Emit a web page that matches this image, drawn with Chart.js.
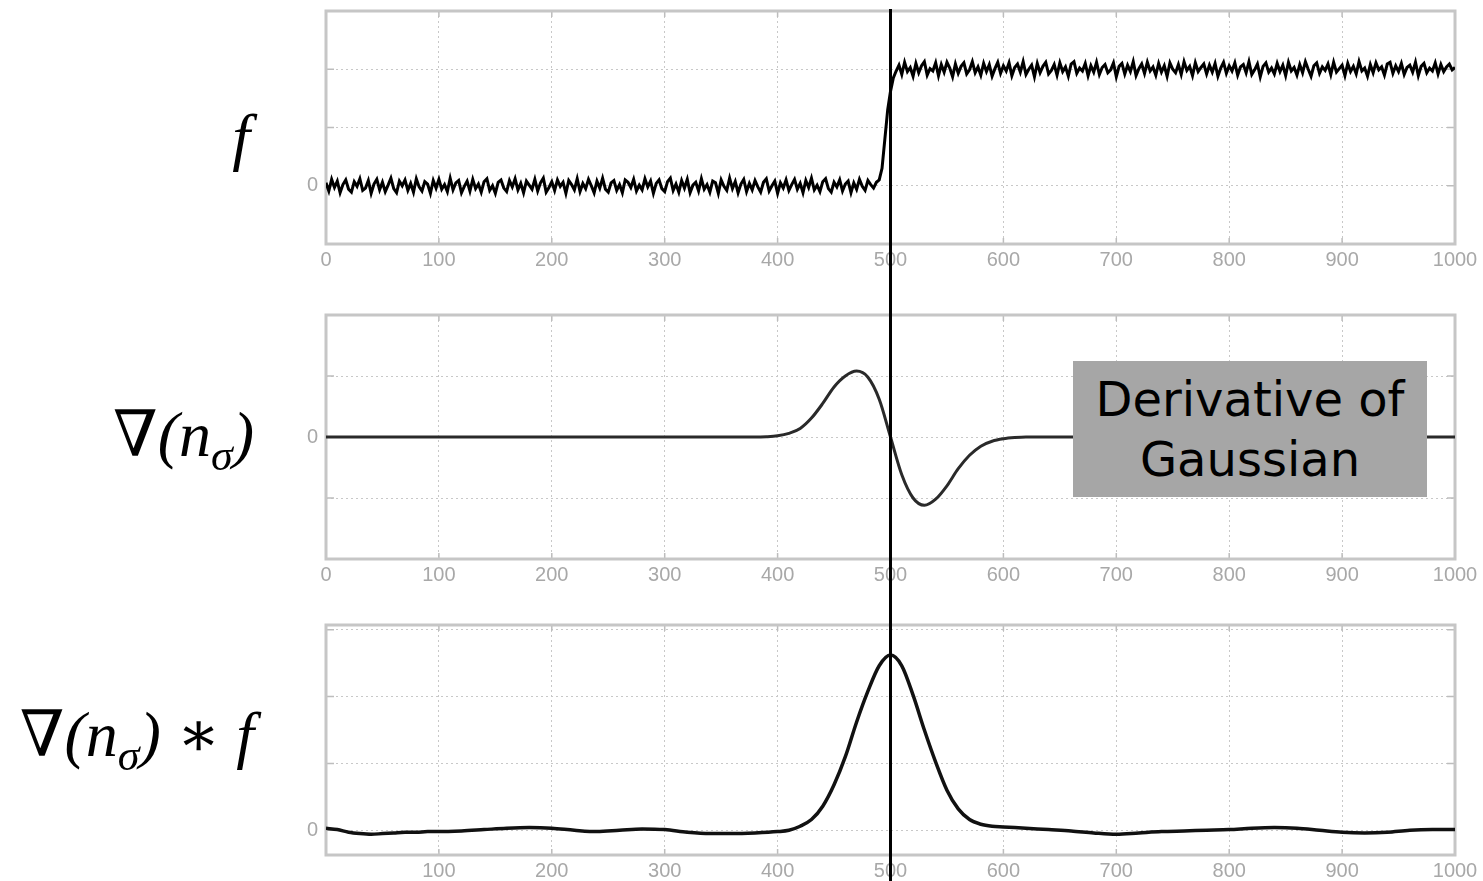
<!DOCTYPE html>
<html>
<head>
<meta charset="utf-8">
<script src="https://cdn.jsdelivr.net/npm/chart.js@4.4.0/dist/chart.umd.min.js"></script>
<style>
  html, body { margin: 0; padding: 0; background: #fff; }
  #page { position: relative; width: 1483px; height: 881px; overflow: hidden; }
  canvas { position: absolute; left: 0; }
  .lbl {
    position: absolute; left: 0; width: 254px; text-align: right;
    font-family: "Liberation Serif", "DejaVu Serif", serif; font-style: italic;
    font-size: 64px; line-height: 70px; color: #000; white-space: nowrap;
  }
  .lbl sub { font-size: 44px; vertical-align: -14px; line-height: 0; }
  #dogBox {
    position: absolute; left: 1073px; top: 361px; width: 354px; height: 136px;
    background: #a6a6a6; color: #000; box-sizing: border-box; padding-top: 8px;
    font-family: "DejaVu Sans", sans-serif; font-size: 48px; line-height: 60px; text-align: center;
  }
</style>
</head>
<body>
<div id="page">
  <canvas id="c1" width="1483" height="290" style="top:0px"></canvas>
  <canvas id="c2" width="1483" height="310" style="top:290px"></canvas>
  <canvas id="c3" width="1483" height="281" style="top:600px"></canvas>
  <div class="lbl" style="top:102px; width:250px">f</div>
  <div class="lbl" style="top:400px">∇(n<sub>σ</sub>)</div>
  <div class="lbl" style="top:700px">∇(n<sub>σ</sub>) ∗ f</div>
  <div id="dogBox">Derivative of<br>Gaussian</div>
</div>
<script>
// x axis shared by the three panels
const X_MIN = 0;
const X_MAX = 1000;
const X_TICK_STEP = 100;
const EDGE_X = 500;

// noisy step signal f, sampled every F_STEP along x
const F_STEP = 2.5;
const F_VALUES = [
  // low plateau, x = 0 .. 487.5
  0.05, -0.09, 0.11, -0.03, 0.08, -0.12, 0.02, 0.10, -0.06, -0.11, 0.07, -0.01, 0.12, -0.08,
  -0.04, 0.09, -0.13, 0.03, 0.11, -0.07, 0.06, -0.10, 0.01, 0.13, -0.05, -0.12, 0.08, 0.00,
  0.10, -0.08, 0.04, -0.11, 0.12, -0.02, -0.09, 0.07, 0.03, -0.13, 0.09, -0.04, 0.11, -0.06,
  0.02, -0.10, 0.13, -0.07, 0.05, 0.09, -0.12, -0.01, 0.08, -0.09, 0.11, -0.05, 0.03, -0.11,
  0.07, 0.12, -0.08, 0.00, -0.13, 0.06, 0.10, -0.04, -0.10, 0.09, -0.02, 0.12, -0.07, 0.04,
  -0.12, 0.08, 0.01, -0.06, 0.11, -0.09, 0.05, 0.13, -0.11, -0.03, 0.07, -0.08, 0.10, -0.01,
  0.06, -0.13, 0.09, 0.02, -0.07, 0.12, -0.10, 0.04, -0.05, 0.11, 0.00, -0.12, 0.08, -0.04,
  0.13, -0.06, -0.11, 0.05, 0.09, -0.08, 0.02, -0.12, 0.10, 0.06, -0.03, 0.11, -0.09, 0.01,
  -0.07, 0.12, -0.02, 0.08, -0.13, 0.04, 0.10, -0.05, -0.10, 0.07, 0.13, -0.08, 0.03, -0.11,
  0.09, -0.04, 0.11, -0.12, 0.01, 0.06, -0.09, 0.12, -0.06, 0.02, -0.11, 0.08, 0.05, -0.13,
  0.10, -0.01, -0.08, 0.13, -0.05, 0.07, -0.12, 0.03, 0.11, -0.10, 0.04, -0.07, 0.09, -0.02,
  -0.11, 0.06, 0.12, -0.09, 0.00, 0.08, -0.13, 0.05, -0.04, 0.10, -0.08, 0.02, 0.11, -0.06,
  0.04, -0.12, 0.09, -0.03, 0.13, -0.07, 0.01, -0.10, 0.07, 0.12, -0.05, -0.11, 0.06, -0.02,
  0.10, -0.09, 0.03, 0.08, -0.12, 0.05, -0.06, 0.11, -0.01, -0.08, 0.09, 0.02, -0.04, 0.06,
  // rise, x = 490 .. 505
  0.10, 0.30, 0.80, 1.30, 1.62, 1.85, 1.97,
  // high plateau, x = 507.5 .. 1000
  2.07, 1.91, 2.12, 1.96, 2.03, 1.88, 2.10, 1.94, 2.06, 2.13, 1.90, 2.01, 1.97, 2.11,
  1.89, 2.08, 1.95, 2.12, 2.02, 1.87, 2.09, 1.93, 2.05, 2.11, 1.92, 1.99, 2.13, 1.94,
  2.04, 1.90, 2.10, 1.96, 2.08, 1.88, 2.01, 2.12, 1.93, 2.06, 1.97, 2.11, 1.89, 2.03,
  2.09, 1.95, 2.13, 1.91, 2.00, 2.07, 1.87, 2.10, 1.94, 2.05, 2.12, 1.92, 1.98, 2.08,
  1.90, 2.11, 1.96, 2.04, 1.88, 2.09, 2.13, 1.93, 2.02, 1.97, 2.10, 1.89, 2.06, 1.95,
  2.12, 1.91, 2.03, 2.08, 1.94, 1.99, 2.11, 1.87, 2.05, 2.10, 1.92, 2.07, 1.96, 2.13,
  1.89, 2.01, 2.09, 1.93, 2.12, 1.97, 2.04, 1.90, 2.10, 1.95, 2.06, 1.88, 2.11, 2.00,
  1.94, 2.08, 1.91, 2.13, 1.98, 2.05, 1.89, 2.11, 1.96, 2.03, 2.09, 1.92, 2.07, 1.95,
  2.10, 1.88, 2.02, 2.12, 1.93, 2.06, 1.97, 2.11, 1.90, 2.04, 2.08, 1.94, 2.13, 1.91,
  1.99, 2.09, 1.87, 2.05, 2.11, 1.95, 2.02, 1.92, 2.10, 1.96, 2.07, 1.89, 2.12, 1.97,
  2.03, 1.90, 2.08, 1.94, 2.13, 2.00, 1.88, 2.06, 2.11, 1.93, 2.04, 1.98, 2.09, 1.91,
  2.12, 1.95, 2.01, 2.07, 1.89, 2.10, 1.96, 2.05, 1.92, 2.13, 1.97, 2.02, 1.88, 2.08,
  1.94, 2.11, 1.99, 2.04, 1.90, 2.09, 2.12, 1.93, 2.06, 1.96, 2.10, 1.91, 2.03, 2.07,
  1.95, 2.12, 1.89, 2.05, 2.10, 1.94, 2.02, 1.97, 2.11, 1.92, 2.08, 1.96, 2.04, 2.09,
  1.99, 2.03
];

// derivative of gaussian kernel
const DOG_X = [0, 380, 390, 400, 410, 420, 430, 440, 450, 460, 470, 480, 490, 500,
  510, 520, 530, 540, 550, 560, 570, 580, 590, 600, 610, 620, 1000];
const DOG_Y = [0, 0, 0.005, 0.02, 0.06, 0.14, 0.31, 0.55, 0.82, 1.00, 1.08, 0.98, 0.62, 0,
  -0.62, -1.00, -1.12, -1.02, -0.80, -0.52, -0.30, -0.15, -0.07, -0.03, -0.01, 0, 0];

// convolution result
const CONV_X = [0, 10, 20, 30, 40, 50, 60, 70, 80, 90, 100, 120, 140, 160, 180, 200, 220, 240,
  260, 280, 300, 320, 340, 360, 380, 400, 410, 420, 430, 440, 450, 460, 470, 480, 490, 500,
  510, 520, 530, 540, 550, 560, 570, 580, 590, 600, 620, 640, 660, 680, 700, 720, 740, 760,
  780, 800, 820, 840, 860, 880, 900, 920, 940, 960, 980, 1000];
const CONV_Y = [0.03, 0.01, -0.03, -0.05, -0.06, -0.05, -0.04, -0.03, -0.03, -0.02, -0.02, -0.01,
  0.01, 0.03, 0.04, 0.03, 0.00, -0.02, 0.00, 0.02, 0.01, -0.03, -0.05, -0.05, -0.04, -0.02,
  0.00, 0.06, 0.16, 0.36, 0.68, 1.10, 1.62, 2.08, 2.46, 2.62,
  2.46, 2.02, 1.50, 1.02, 0.60, 0.32, 0.16, 0.09, 0.06, 0.05, 0.03, 0.01, -0.01, -0.04,
  -0.06, -0.04, -0.02, -0.01, 0.00, 0.01, 0.03, 0.04, 0.03, 0.00, -0.03, -0.04, -0.03,
  0.00, 0.01, 0.01];

// y ranges and grid ticks per panel
const Y1_RANGE = [-1, 3];
const Y1_TICKS = [-1, 0, 1, 2, 3];
const Y2_RANGE = [-2, 2];
const Y2_TICKS = [-2, -1, 0, 1, 2];
const Y3_RANGE = [-0.37, 3.07];
const Y3_TICKS = [0, 1, 2, 3];

const TICK_FONT = { family: 'Liberation Sans', size: 20 };
const TICK_COLOR = '#a8a8a8';
const GRID_COLOR = '#c8c8c8';

// matlab-like box with small inward ticks
const framePlugin = {
  id: 'frame',
  beforeDatasetsDraw(chart) {
    const { ctx, chartArea: a, scales } = chart;
    ctx.save();
    ctx.strokeStyle = '#bdbdbd';
    ctx.lineWidth = 1.5;
    ctx.beginPath();
    scales.x.ticks.forEach(t => {
      const px = scales.x.getPixelForValue(t.value);
      ctx.moveTo(px, a.top); ctx.lineTo(px, a.top + 6);
      ctx.moveTo(px, a.bottom); ctx.lineTo(px, a.bottom - 6);
    });
    scales.y.ticks.forEach(t => {
      const py = scales.y.getPixelForValue(t.value);
      ctx.moveTo(a.left, py); ctx.lineTo(a.left + 8, py);
      ctx.moveTo(a.right, py); ctx.lineTo(a.right - 8, py);
    });
    ctx.stroke();
    ctx.strokeStyle = '#c6c6c6';
    ctx.lineWidth = 3;
    ctx.strokeRect(a.left, a.top, a.right - a.left, a.bottom - a.top);
    ctx.restore();
  }
};

// vertical line marking the edge
const edgePlugin = {
  id: 'edge',
  afterDatasetsDraw(chart, args, opts) {
    const { ctx } = chart;
    const x = chart.scales.x.getPixelForValue(EDGE_X);
    const top = opts.fromArea ? chart.chartArea.top - 2 : 0;
    ctx.save();
    ctx.strokeStyle = '#000';
    ctx.lineWidth = 3;
    ctx.beginPath();
    ctx.moveTo(x, top);
    ctx.lineTo(x, chart.height);
    ctx.stroke();
    ctx.restore();
  }
};

function makePanel(id, points, lineOpts, yRange, yTicks, cfg) {
  return new Chart(document.getElementById(id), {
    type: 'line',
    data: {
      datasets: [{
        data: points,
        borderColor: lineOpts.color,
        borderWidth: lineOpts.width,
        pointRadius: 0,
        tension: 0,
        cubicInterpolationMode: lineOpts.smooth ? 'monotone' : 'default',
        fill: false
      }]
    },
    options: {
      responsive: false,
      animation: false,
      events: [],
      layout: { padding: { top: cfg.padTop, left: 286, right: 28, bottom: 0 } },
      plugins: {
        legend: { display: false },
        tooltip: { enabled: false },
        edge: { fromArea: cfg.edgeFromArea }
      },
      scales: {
        x: {
          type: 'linear',
          min: X_MIN,
          max: X_MAX,
          afterFit: s => { s.height = cfg.axisHeight; },
          grid: { color: GRID_COLOR, lineWidth: 1, drawTicks: false },
          border: { display: false, dash: [2, 3] },
          ticks: {
            stepSize: X_TICK_STEP,
            padding: 4,
            maxRotation: 0,
            color: TICK_COLOR,
            font: TICK_FONT,
            callback: v => (cfg.hideZeroX && v === 0) ? '' : String(v)
          }
        },
        y: {
          type: 'linear',
          min: yRange[0],
          max: yRange[1],
          afterFit: s => { s.width = 40; s.paddingTop = 0; s.paddingBottom = 0; },
          afterBuildTicks: s => { s.ticks = yTicks.map(v => ({ value: v })); },
          grid: { color: GRID_COLOR, lineWidth: 1, drawTicks: false },
          border: { display: false, dash: [2, 3] },
          ticks: {
            padding: 8,
            color: TICK_COLOR,
            font: TICK_FONT,
            callback: v => v === 0 ? '0' : ''
          }
        }
      }
    },
    plugins: [framePlugin, edgePlugin]
  });
}

const fPoints = F_VALUES.map((v, i) => ({ x: i * F_STEP, y: v }));
const dogPoints = DOG_X.map((x, i) => ({ x: x, y: DOG_Y[i] }));
const convPoints = CONV_X.map((x, i) => ({ x: x, y: CONV_Y[i] }));

makePanel('c1', fPoints, { color: '#000', width: 3, smooth: false }, Y1_RANGE, Y1_TICKS,
  { padTop: 11, axisHeight: 46, edgeFromArea: true });
makePanel('c2', dogPoints, { color: '#2a2a2a', width: 3, smooth: true }, Y2_RANGE, Y2_TICKS,
  { padTop: 25, axisHeight: 41, edgeFromArea: false });
makePanel('c3', convPoints, { color: '#111', width: 3.5, smooth: true }, Y3_RANGE, Y3_TICKS,
  { padTop: 25, axisHeight: 26, edgeFromArea: false, hideZeroX: true });
</script>
</body>
</html>
